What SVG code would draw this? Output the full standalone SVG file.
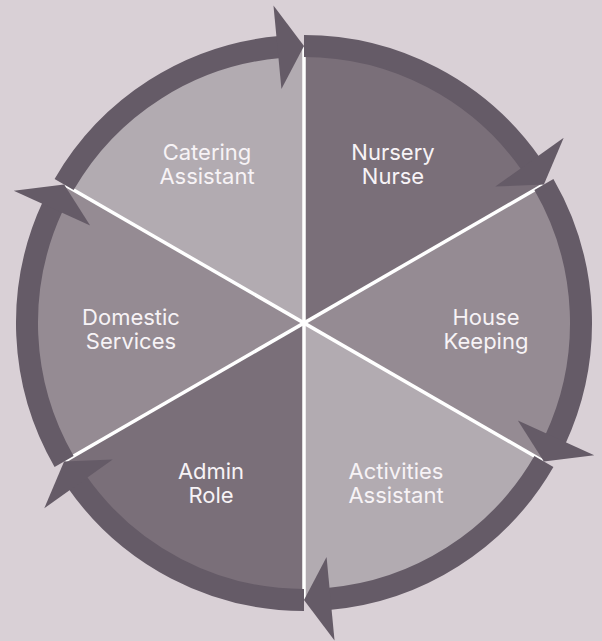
<svg xmlns="http://www.w3.org/2000/svg" xmlns:xlink="http://www.w3.org/1999/xlink" width="602" height="641" viewBox="0 0 602 641">
  <style>
    .light { fill: #b2abb1; }
    .mid { fill: #958b93; }
    .dark { fill: #7a6f79; }
    .divider { stroke: #ffffff; stroke-width: 3.5; fill: none; }
    .ring { stroke: #655b67; stroke-width: 22; fill: none; stroke-linecap: butt; }
    .head { fill: #655b67; }
    .label { font-family: Inter, "Noto Sans", "Liberation Sans", sans-serif; font-size: 22px; font-weight: 400; fill: #f7f3f6; text-anchor: middle; }
  </style>
  <defs>
    <g id="arrowSeg">
      <path class="ring" d="M304,46 A277,277 0 0 1 530.9,164.1"/>
      <polygon class="head" points="543.9,184.5 563.7,137.8 495.3,186.5"/>
    </g>
  </defs>
  <rect width="602" height="641" fill="#d9d0d6"/>
  <g id="sectors">
    <g id="nursery-nurse"><path class="dark" d="M304,323 L304,47 A276,276 0 0 1 543,185 Z"/></g>
    <g id="house-keeping"><path class="mid" d="M304,323 L543,185 A276,276 0 0 1 543,461 Z"/></g>
    <g id="activities-assistant"><path class="light" d="M304,323 L543,461 A276,276 0 0 1 304,599 Z"/></g>
    <g id="admin-role"><path class="dark" d="M304,323 L304,599 A276,276 0 0 1 65,461 Z"/></g>
    <g id="domestic-services"><path class="mid" d="M304,323 L65,461 A276,276 0 0 1 65,185 Z"/></g>
    <g id="catering-assistant"><path class="light" d="M304,323 L65,185 A276,276 0 0 1 304,47 Z"/></g>
  </g>
  <g id="dividers">
    <line class="divider" x1="304" y1="47" x2="304" y2="599"/>
    <line class="divider" x1="543" y1="185" x2="65" y2="461"/>
    <line class="divider" x1="543" y1="461" x2="65" y2="185"/>
  </g>
  <g id="connectors">
    <use xlink:href="#arrowSeg"/>
    <use xlink:href="#arrowSeg" transform="rotate(60 304 323)"/>
    <use xlink:href="#arrowSeg" transform="rotate(120 304 323)"/>
    <use xlink:href="#arrowSeg" transform="rotate(180 304 323)"/>
    <use xlink:href="#arrowSeg" transform="rotate(240 304 323)"/>
    <use xlink:href="#arrowSeg" transform="rotate(300 304 323)"/>
  </g>
  <g id="labels">
    <text class="label"><tspan x="207" y="160">Catering</tspan><tspan x="207" y="184">Assistant</tspan></text>
    <text class="label"><tspan x="393" y="160">Nursery</tspan><tspan x="393" y="184">Nurse</tspan></text>
    <text class="label"><tspan x="486" y="325">House</tspan><tspan x="486" y="349">Keeping</tspan></text>
    <text class="label"><tspan x="131" y="325">Domestic</tspan><tspan x="131" y="349">Services</tspan></text>
    <text class="label"><tspan x="396" y="479">Activities</tspan><tspan x="396" y="503">Assistant</tspan></text>
    <text class="label"><tspan x="211" y="479">Admin</tspan><tspan x="211" y="503">Role</tspan></text>
  </g>
</svg>
